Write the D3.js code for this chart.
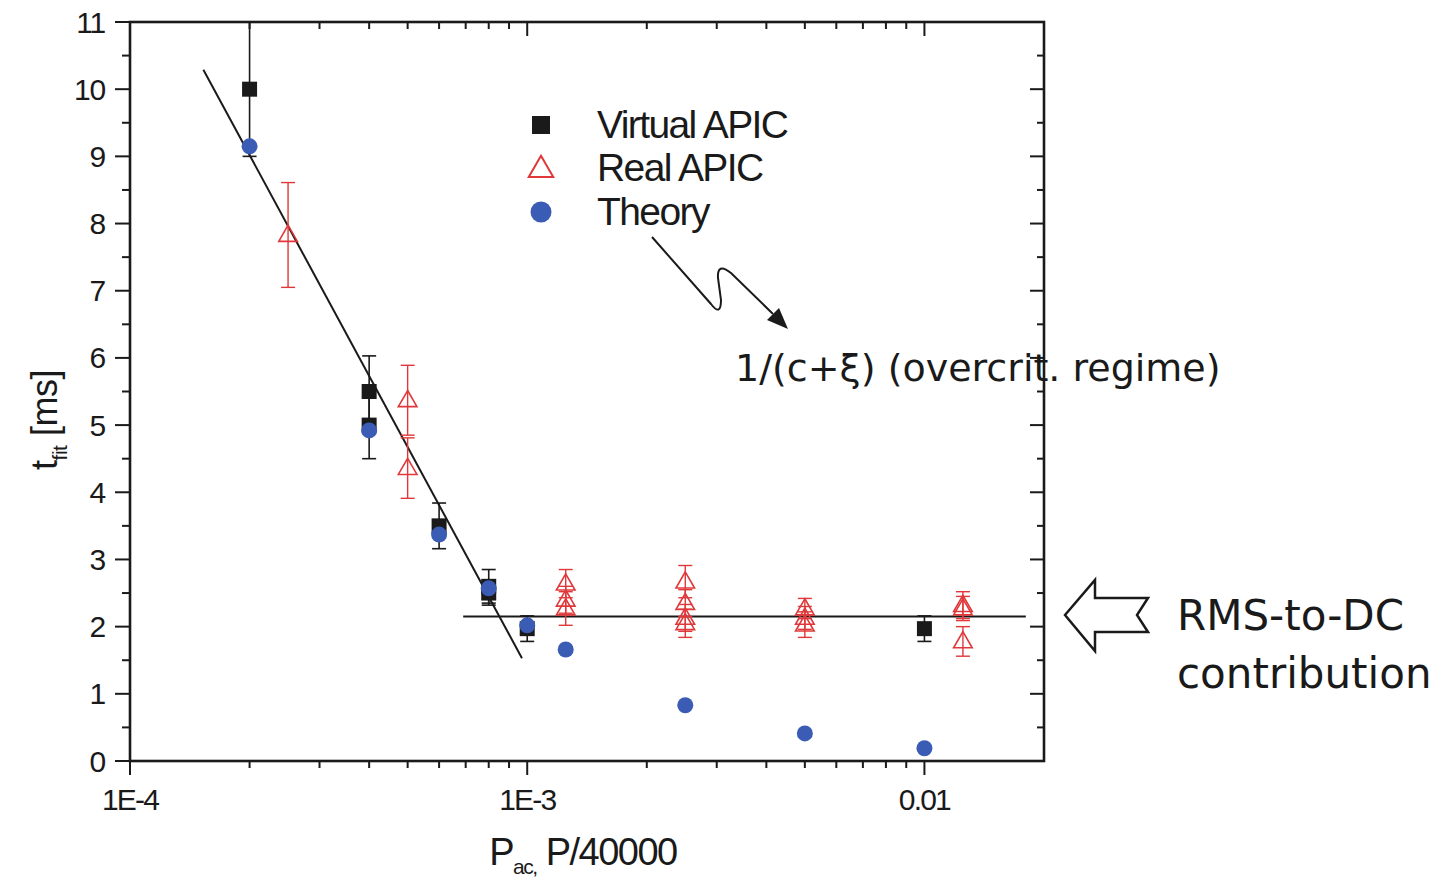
<!DOCTYPE html>
<html>
<head>
<meta charset="utf-8">
<script src="https://cdn.jsdelivr.net/npm/d3@7"></script>
<style>
  html, body { margin: 0; padding: 0; background: #fff; }
  svg { display: block; }
  text { font-family: "Liberation Sans", Arial, sans-serif; fill: #1a1a1a; }
</style>
</head>
<body>
<svg id="chart" width="1439" height="881"></svg>
<script>
// ---------------- data ----------------
const virtualX   = [2e-4, 4e-4, 4e-4, 6e-4, 8e-4, 8e-4, 1e-3, 1e-2];
const virtualY   = [10.0, 5.5, 5.0, 3.5, 2.6, 2.5, 1.97, 1.97];
const virtualErr = [1.0, 0.53, 0.5, 0.34, 0.25, 0.18, 0.19, 0.19];

const realX   = [2.5e-4, 5e-4, 5e-4, 1.25e-3, 1.25e-3, 1.25e-3, 2.5e-3, 2.5e-3, 2.5e-3, 2.5e-3, 5e-3, 5e-3, 5e-3, 1.25e-2, 1.25e-2, 1.25e-2];
const realY   = [7.83, 5.37, 4.36, 2.64, 2.40, 2.27, 2.67, 2.35, 2.13, 2.05, 2.27, 2.13, 2.03, 2.32, 2.27, 1.78];
const realErr = [0.78, 0.52, 0.45, 0.21, 0.20, 0.25, 0.24, 0.20, 0.20, 0.21, 0.15, 0.17, 0.19, 0.20, 0.18, 0.22];

const theoryX = [2e-4, 4e-4, 6e-4, 8e-4, 1e-3, 1.25e-3, 2.5e-3, 5e-3, 1e-2];
const theoryY = [9.15, 4.92, 3.37, 2.57, 2.02, 1.66, 0.83, 0.41, 0.19];

const steepFitX = [1.53e-4, 9.7e-4];
const steepFitY = [10.29, 1.53];
const flatFitX  = [6.9e-4, 0.018];
const flatFitY  = [2.15, 2.15];

const xMajorTicks  = [1e-4, 1e-3, 1e-2];
const xTickLabels  = ["1E-4", "1E-3", "0.01"];
const yMajorTicks  = [0, 1, 2, 3, 4, 5, 6, 7, 8, 9, 10, 11];
const yTickLabels  = ["0", "1", "2", "3", "4", "5", "6", "7", "8", "9", "10", "11"];
const legendLabels = ["Virtual APIC", "Real APIC", "Theory"];

// ---------------- layout ----------------
const svg = d3.select("#chart");
const L = 130, R = 1044, T = 22, B = 761;
const x = d3.scaleLog().domain([1e-4, 0.02]).range([L, R]);
const y = d3.scaleLinear().domain([0, 11]).range([B, T]);

const black = "#1a1a1a", red = "#e0383a", blue = "#3b5cb4";

// minor ticks
const xMinor = [];
[1e-4, 1e-3, 1e-2].forEach(d => { for (let k = 2; k <= 9; k++) { const v = d * k; if (v < 0.02) xMinor.push(v); } });
const yMinor = d3.range(0, 11, 1).map(v => v + 0.5);

const g = svg.append("g");

// fit lines
const line = d3.line().x(d => x(d[0])).y(d => y(d[1]));
g.append("path").datum(d3.zip(steepFitX, steepFitY)).attr("d", line)
  .attr("stroke", black).attr("stroke-width", 2).attr("fill", "none");
g.append("path").datum(d3.zip(flatFitX, flatFitY)).attr("d", line)
  .attr("stroke", black).attr("stroke-width", 2).attr("fill", "none");

// error bars
function errorBars(xs, ys, es, color, w) {
  const data = xs.map((v, i) => ({ x: v, y: ys[i], e: es[i] }));
  const eg = g.append("g").attr("stroke", color).attr("stroke-width", w).attr("fill", "none");
  eg.selectAll("line.v").data(data).join("line")
    .attr("x1", d => x(d.x)).attr("x2", d => x(d.x))
    .attr("y1", d => y(Math.min(11, d.y + d.e))).attr("y2", d => y(d.y - d.e));
  eg.selectAll("line.t").data(data).join("line")
    .attr("x1", d => x(d.x) - 7).attr("x2", d => x(d.x) + 7)
    .attr("y1", d => y(Math.min(11, d.y + d.e))).attr("y2", d => y(Math.min(11, d.y + d.e)));
  eg.selectAll("line.b").data(data).join("line")
    .attr("x1", d => x(d.x) - 7).attr("x2", d => x(d.x) + 7)
    .attr("y1", d => y(d.y - d.e)).attr("y2", d => y(d.y - d.e));
}
errorBars(virtualX, virtualY, virtualErr, black, 1.6);
errorBars(realX, realY, realErr, red, 1.4);

// markers
const sq = 15;
g.selectAll("rect.virt").data(d3.zip(virtualX, virtualY)).join("rect")
  .attr("x", d => x(d[0]) - sq / 2).attr("y", d => y(d[1]) - sq / 2)
  .attr("width", sq).attr("height", sq).attr("fill", black);

const tri = d3.symbol().type(d3.symbolTriangle).size(150);
g.selectAll("path.real").data(d3.zip(realX, realY)).join("path")
  .attr("d", tri).attr("transform", d => `translate(${x(d[0])},${y(d[1]) + 1})`)
  .attr("fill", "none").attr("stroke", red).attr("stroke-width", 1.6);

g.selectAll("circle.theory").data(d3.zip(theoryX, theoryY)).join("circle")
  .attr("cx", d => x(d[0])).attr("cy", d => y(d[1])).attr("r", 8).attr("fill", blue);

// ---------------- axes / frame ----------------
const ax = svg.append("g").attr("stroke", black).attr("stroke-width", 2);
ax.append("rect").attr("x", L).attr("y", T).attr("width", R - L).attr("height", B - T)
  .attr("fill", "none").attr("stroke-width", 2.6);

xMajorTicks.forEach(v => {
  ax.append("line").attr("x1", x(v)).attr("x2", x(v)).attr("y1", B).attr("y2", B + 14);
  ax.append("line").attr("x1", x(v)).attr("x2", x(v)).attr("y1", T).attr("y2", T + 14);
});
xMinor.forEach(v => {
  ax.append("line").attr("x1", x(v)).attr("x2", x(v)).attr("y1", B).attr("y2", B + 7);
  ax.append("line").attr("x1", x(v)).attr("x2", x(v)).attr("y1", T).attr("y2", T + 7);
});
yMajorTicks.forEach(v => {
  ax.append("line").attr("x1", L - 15).attr("x2", L).attr("y1", y(v)).attr("y2", y(v));
  ax.append("line").attr("x1", R - 14).attr("x2", R).attr("y1", y(v)).attr("y2", y(v));
});
yMinor.forEach(v => {
  ax.append("line").attr("x1", L - 8).attr("x2", L).attr("y1", y(v)).attr("y2", y(v));
  ax.append("line").attr("x1", R - 7).attr("x2", R).attr("y1", y(v)).attr("y2", y(v));
});

// tick labels
svg.append("g").selectAll("text").data(xMajorTicks).join("text")
  .attr("x", d => x(d)).attr("y", 810).attr("text-anchor", "middle")
  .attr("font-size", 30).attr("letter-spacing", -1.8)
  .text((d, i) => xTickLabels[i]);
svg.append("g").selectAll("text").data(yMajorTicks).join("text")
  .attr("x", 105).attr("y", d => y(d) + 10.5).attr("text-anchor", "end")
  .attr("font-size", 30).attr("letter-spacing", -1.2)
  .text((d, i) => yTickLabels[i]);

// axis titles
const yt = svg.append("text").attr("transform", "translate(57,420) rotate(-90)")
  .attr("text-anchor", "middle").attr("font-size", 36).attr("letter-spacing", -0.5);
yt.append("tspan").text("t");
yt.append("tspan").attr("font-size", 21).attr("dy", 10).text("fit");
yt.append("tspan").attr("dy", -10).text(" [ms]");

const xt = svg.append("text").attr("x", 583).attr("y", 865)
  .attr("text-anchor", "middle").attr("font-size", 38).attr("letter-spacing", -1.5);
xt.append("tspan").text("P");
xt.append("tspan").attr("font-size", 21).attr("dy", 9).text("ac,");
xt.append("tspan").attr("dy", -9).text(" P/40000");

// ---------------- legend ----------------
const lg = svg.append("g");
const legY = [125, 168, 212];
lg.append("rect").attr("x", 541 - 9).attr("y", legY[0] - 9).attr("width", 18).attr("height", 18).attr("fill", black);
lg.append("path").attr("d", d3.symbol().type(d3.symbolTriangle).size(260))
  .attr("transform", `translate(541,${legY[1] + 2})`).attr("fill", "none").attr("stroke", red).attr("stroke-width", 2);
lg.append("circle").attr("cx", 541).attr("cy", legY[2]).attr("r", 10.5).attr("fill", blue);
lg.selectAll("text").data(legendLabels).join("text")
  .attr("x", 597).attr("y", (d, i) => legY[i] + 13)
  .attr("font-size", 39).attr("letter-spacing", -1.6)
  .text(d => d);

// ---------------- annotations ----------------
const an = svg.append("g");
an.append("path")
  .attr("d", "M652,237 L711,304 Q721,317 721,300 L718,278 Q717,262 731,273 L773,314")
  .attr("fill", "none").attr("stroke", black).attr("stroke-width", 2);
an.append("path").attr("d", "M788,329 L767,320 L779,308 Z").attr("fill", black);

an.append("text").attr("x", 735).attr("y", 381)
  .style("font-family", "'DejaVu Sans', sans-serif").attr("font-size", 38)
  .text("1/(c+ξ) (overcrit. regime)");

an.append("path")
  .attr("d", "M1065,615 L1095,580 L1095,598 L1148,598 L1137,615 L1148,632 L1095,632 L1095,651 Z")
  .attr("fill", "#fff").attr("stroke", black).attr("stroke-width", 2.5).attr("stroke-linejoin", "miter");

an.append("text").attr("x", 1177).attr("y", 630)
  .style("font-family", "'DejaVu Sans', sans-serif").attr("font-size", 42)
  .text("RMS-to-DC");
an.append("text").attr("x", 1177).attr("y", 688)
  .style("font-family", "'DejaVu Sans', sans-serif").attr("font-size", 42)
  .text("contribution");
</script>
</body>
</html>
